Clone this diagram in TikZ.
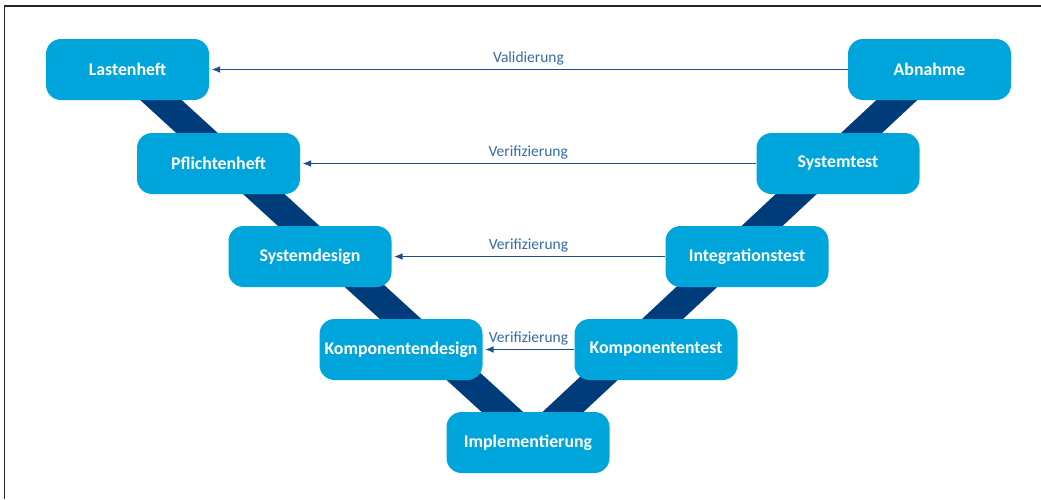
\documentclass[tikz,border=0pt]{standalone}
\usepackage{fontspec}
\setmainfont{Carlito}
\usetikzlibrary{arrows.meta,backgrounds}

\definecolor{phase}{RGB}{0,166,219}
\definecolor{vband}{RGB}{0,59,122}
\definecolor{pfeil}{RGB}{31,78,140}
\definecolor{beschr}{RGB}{52,106,166}

\begin{document}
\begin{tikzpicture}[x=1pt, y=-1pt,
        phasebox/.style={fill=phase, rounded corners=15pt, minimum width=163pt,
            minimum height=61pt, inner sep=0pt, text=white,
            font=\fontsize{17.8}{19}\selectfont\bfseries},
        vline/.style={vband, line width=28pt},
        checkarrow/.style={pfeil, line width=1.9pt, -{Latex[length=9pt, width=7pt]}, shorten >=2pt},
        checklabel/.style={midway, above, text=beschr, font=\fontsize{15.5}{17}\selectfont}]
        \useasboundingbox (0,0) rectangle (1041,499);
        \draw[black!85, line width=1.2pt] (4.5,499) -- (4.5,6) -- (1041,6);

        % left branch
        \node[phasebox] (last) at (127.5,69.5) {Lastenheft};
        \node[phasebox] (pfl)  at (218.5,163.5) {Pflichtenheft};
        \node[phasebox] (sysd) at (310,256.5) {Systemdesign};
        \node[phasebox] (komd) at (401,349.5) {Komponentendesign};
        % bottom
        \node[phasebox] (impl) at (528,442.5) {Implementierung};
        % right branch
        \node[phasebox] (komt) at (656,349.5) {Komponententest};
        \node[phasebox] (intt) at (747,256.5) {Integrationstest};
        \node[phasebox] (syst) at (838,163.5) {Systemtest};
        \node[phasebox] (abn)  at (929.5,69.5) {Abnahme};

        \coordinate (spitze) at (533,440);
        \begin{pgfonlayer}{background}
            \draw[vline] (last.center) -- (spitze) -- (abn.center);
        \end{pgfonlayer}

        \draw[checkarrow] (abn) -- (last) node[checklabel] {Validierung};
        \draw[checkarrow] (syst) -- (pfl) node[checklabel] {Verifizierung};
        \draw[checkarrow] (intt) -- (sysd) node[checklabel] {Verifizierung};
        \draw[checkarrow] (komt) -- (komd) node[checklabel] {Verifizierung};
    \end{tikzpicture}
\end{document}
